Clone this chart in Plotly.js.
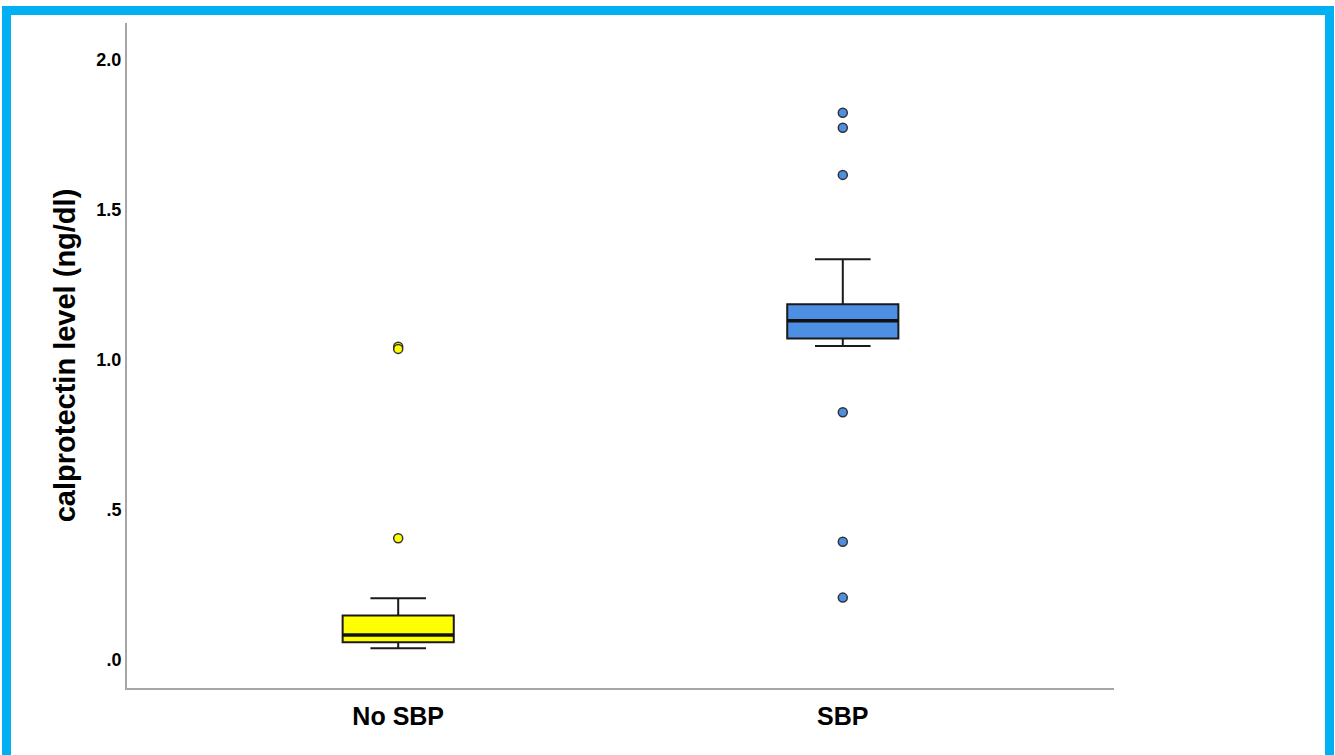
<!DOCTYPE html>
<html>
<head>
<meta charset="utf-8">
<script src="https://cdn.plot.ly/plotly-3.0.1.min.js"></script>
<style>
  html, body { margin: 0; padding: 0; width: 1335px; height: 755px; overflow: hidden; background: #fff; }
  #chart { position: absolute; left: 0; top: 0; width: 1335px; height: 755px; }
  #frame { position: absolute; left: 2px; top: 6px; width: 1332px; height: 800px; box-sizing: border-box;
           border: 9px solid #00B0F0; border-bottom: none; pointer-events: none; }
</style>
</head>
<body>
<div id="chart"></div>
<div id="frame"></div>
<script>
// ---- data ----
const groups      = ['No SBP', 'SBP'];
const q1          = [0.059, 1.072];
const medians     = [0.083, 1.131];
const q3          = [0.148, 1.186];
const lowerFence  = [0.039, 1.047];
const upperFence  = [0.206, 1.336];
const outliersNoSBP = [1.044, 1.037, 0.406];
const outliersSBP   = [1.824, 1.774, 1.617, 0.826, 0.394, 0.208];
const fillColors  = ['#FFFF00', '#4D8FE3'];
const yTickVals   = [0, 0.5, 1.0, 1.5, 2.0];
const yTickText   = ['.0', '.5', '1.0', '1.5', '2.0'];
const yTitle      = 'calprotectin level (ng/dl)';

const boxWidth = 0.25;
const font = 'Liberation Sans, Arial, sans-serif';

const traces = [];
groups.forEach((g, i) => {
  traces.push({
    type: 'box',
    x: [g],
    q1: [q1[i]], median: [medians[i]], q3: [q3[i]],
    lowerfence: [lowerFence[i]], upperfence: [upperFence[i]],
    width: boxWidth,
    whiskerwidth: 0.5,
    boxpoints: false,
    fillcolor: fillColors[i],
    line: { color: '#1a1a1a', width: 2 },
    hoverinfo: 'skip',
    showlegend: false
  });
});
const outlierSets = [outliersNoSBP, outliersSBP];
outlierSets.forEach((arr, i) => {
  traces.push({
    type: 'scatter', mode: 'markers',
    x: arr.map(() => groups[i]), y: arr,
    marker: { size: 9, color: fillColors[i], line: { color: '#333333', width: 1.5 } },
    hoverinfo: 'skip', showlegend: false
  });
});

// thicker median lines, positioned via the axis scales
const shapes = medians.map((m, i) => ({
  type: 'line', xref: 'x', yref: 'y',
  x0: i - boxWidth / 2, x1: i + boxWidth / 2, y0: m, y1: m,
  line: { color: '#111111', width: 3.5 }
}));

const layout = {
  width: 1335, height: 755,
  margin: { l: 127, r: 221, t: 23, b: 67 },
  paper_bgcolor: '#ffffff', plot_bgcolor: '#ffffff',
  showlegend: false,
  boxmode: 'overlay',
  xaxis: {
    type: 'category', categoryorder: 'array', categoryarray: groups,
    range: [-0.61, 1.61],
    showline: true, linecolor: '#a6a6a6', linewidth: 2,
    showgrid: false, zeroline: false, ticks: '',
    ticklabelstandoff: 5,
    tickfont: { family: font, size: 25, color: '#000', weight: 'bold' },
    fixedrange: true
  },
  yaxis: {
    range: [-0.0933, 2.1233],
    tickmode: 'array', tickvals: yTickVals, ticktext: yTickText,
    showline: true, linecolor: '#a6a6a6', linewidth: 2,
    showgrid: false, zeroline: false, ticks: '',
    tickfont: { family: font, size: 18, color: '#000', weight: 'bold' },
    title: { text: yTitle, standoff: 12, font: { family: font, size: 29, color: '#000', weight: 'bold' } },
    fixedrange: true
  },
  font: { family: font, color: '#000' },
  shapes: shapes
};

Plotly.newPlot('chart', traces, layout, { displayModeBar: false, staticPlot: true });
</script>
</body>
</html>
